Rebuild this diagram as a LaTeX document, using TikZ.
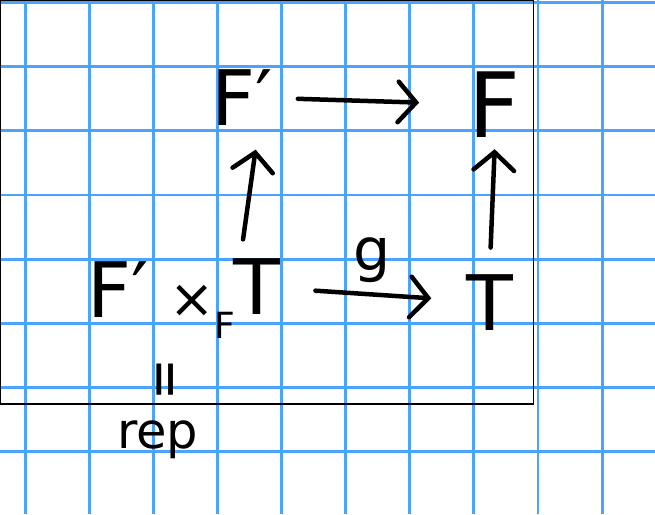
\documentclass[tikz,border=0pt]{standalone}
\usepackage{fontspec}
\setmainfont{DejaVu Sans}
\usetikzlibrary{arrows.meta}
\definecolor{gridblue}{RGB}{74,163,255}

\begin{document}
\begin{tikzpicture}[x=1cm,y=1cm,
  ink/.style={line width=2pt,line cap=round},
  obj/.style={inner sep=2pt,font=\fontsize{34}{40}\selectfont},
  >={Straight Barb[length=8pt,width=18pt,line cap=round]}]
\useasboundingbox (0,0) rectangle (10.218,-8.019);
% Grid paper
\foreach \i in {0,...,9}
  \draw[gridblue,line width=1.3pt] (0.393+\i,0) -- (0.393+\i,-8.019);
\foreach \j in {0,...,7}
  \draw[gridblue,line width=1.3pt] (0,-0.042-\j) -- (10.218,-0.042-\j);

% Frame
\draw[line width=0.6pt] (0,0) rectangle (8.32,-6.30);

% Top row
\node[obj,anchor=base] (Fp) at (3.78,-1.95) {F′};
\node[obj,anchor=base,font=\fontsize{40}{46}\selectfont] (F) at (7.72,-2.15) {F};

% Bottom row
\node[obj,anchor=base] (pbF) at (1.84,-4.96) {F′};
\node[anchor=base west,inner sep=1pt,font=\fontsize{24}{28}\selectfont] (pbx) at (2.60,-4.96)
  {×\raisebox{-9pt}{\fontsize{16}{18}\selectfont F}};
\node[obj,anchor=base] (pbT) at (4.01,-4.91) {T};
\node[obj,anchor=base] (T) at (7.64,-5.15) {T};
\node[font=\fontsize{26}{30}\selectfont] (g) at (5.80,-4.06) {g};

% rep
\node[font=\fontsize{26}{30}\selectfont,rotate=90] (eq) at (2.65,-5.93) {\scalebox{0.85}[1]{=}};
\node[font=\fontsize{22}{26}\selectfont,anchor=base] (rep) at (2.46,-6.99) {rep};

% Arrows
\draw[ink,->,shorten <=0.31cm,shorten >=0.7cm] (Fp) -- (F);
\draw[ink,->,shorten <=0.23cm,shorten >=0.31cm] ([xshift=-0.25cm]pbT.north) -- ([xshift=0.25cm]Fp.south);
\draw[ink,->,shorten <=0.34cm,shorten >=0.1cm] (T.north) -- (F.south);
\draw[ink,->,shorten <=0.47cm,shorten >=0.47cm] (pbT) -- (T);
\end{tikzpicture}
\end{document}
